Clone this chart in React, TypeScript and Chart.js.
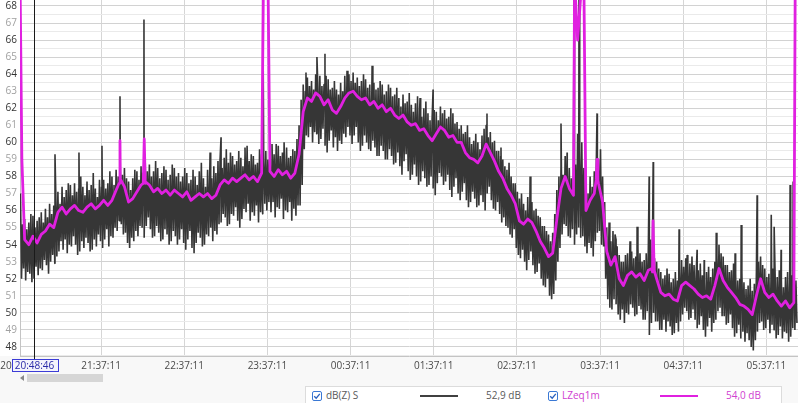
import React, { useEffect, useRef } from "react";
import { Chart, registerables } from "chart.js";

Chart.register(...registerables);

// minutes after 20:00:00
const X_MIN = 38.65;
const X_MAX = 600;
const START_MIN = 39;
const LEQ_STEP = 3;
const BAND_STEP = 1.5;

// LZeq1m (magenta), one value every 3 minutes from 20:39
const leqValues = [
  69.5, 54.3, 54.0, 54.5, 54.1, 54.6, 54.8, 55.2, 55.0, 55.9,
  56.2, 55.8, 56.1, 56.3, 56.0, 55.9, 56.2, 56.4, 56.1, 56.3,
  56.6, 56.3, 56.6, 57.2, 57.7, 57.4, 56.5, 56.7, 57.1, 57.5,
  57.6, 57.5, 57.1, 57.3, 57.0, 57.2, 56.9, 57.2, 57.0, 56.8,
  57.1, 56.6, 56.8, 57.0, 56.8, 57.0, 56.7, 56.9, 57.5, 57.8,
  57.6, 57.9, 57.7, 57.9, 58.1, 57.8, 58.0, 57.7, 58.2, 69.5,
  58.3, 58.0, 58.4, 58.1, 58.3, 57.9, 58.2, 59.3, 61.8, 62.6,
  62.4, 62.9, 62.7, 62.2, 62.5, 61.9, 61.7, 62.1, 62.6, 62.9,
  63.0, 62.7, 62.5, 62.6, 62.2, 62.4, 62.0, 62.2, 61.8, 62.0,
  61.6, 61.4, 61.6, 61.2, 61.0, 61.1, 60.7, 60.8, 60.4, 60.1,
  60.5, 60.9, 60.7, 60.3, 60.4, 60.0, 60.0, 59.4, 59.1, 59.0,
  58.8, 59.2, 59.9, 59.4, 58.9, 58.3, 57.9, 57.3, 56.9, 56.4,
  55.4, 55.2, 55.5, 55.3, 54.8, 54.2, 53.8, 53.3, 53.5, 55.5,
  57.3, 58.0, 57.3, 56.9, 66.0, 69.5, 56.0, 56.6, 57.0, 57.6,
  56.5, 53.6, 52.8, 53.3, 52.0, 51.6, 52.2, 52.4, 52.1, 52.3,
  51.9, 52.5, 52.4, 52.0, 51.2, 51.0, 51.1, 50.8, 50.7, 51.6,
  51.8, 51.6, 51.4, 51.1, 50.9, 51.0, 50.8, 51.6, 52.6, 51.9,
  51.5, 51.2, 50.9, 50.5, 50.4, 50.2, 49.9, 51.0, 52.0, 51.2,
  50.9, 51.1, 50.7, 50.4, 50.7, 50.3, 50.6,
];

// short LZeq1m events [minute, dB]
const leqSpikes = [
  [38.7, 69.5], [40.0, 59.0],
  [110.2, 57.6], [110.8, 60.1], [111.4, 57.8],
  [127.6, 57.6], [128.3, 60.2], [129.0, 57.7],
  [214.3, 69.5], [217.6, 69.5],
  [438.8, 69.5], [445.5, 69.5],
  [454.4, 57.8], [455.0, 59.0], [455.6, 57.8],
  [494.6, 52.6], [495.4, 55.4], [496.2, 52.5],
  [598.0, 69.5],
];

// dB(Z) S band: upper excursion every 1.5 minutes
const darkHigh = [
  57.0, 55.2, 55.5, 54.9, 55.3, 55.8, 55.7, 55.0, 55.4, 55.6, 55.9, 55.3, 56.1, 55.6, 56.4, 55.8, 56.3, 56.9, 57.1, 56.4,
  57.4, 56.8, 57.2, 57.6, 57.5, 56.9, 57.6, 57.1, 57.3, 58.0, 57.4, 56.9, 57.7, 57.2, 57.5, 58.2, 57.3, 56.8, 57.8, 57.4,
  57.8, 57.3, 57.6, 58.3, 58.0, 57.5, 58.4, 58.0, 58.6, 58.1, 58.5, 57.9, 57.7, 57.2, 57.9, 58.4, 58.3, 57.8, 58.6, 58.2,
  58.8, 58.3, 58.7, 58.0, 58.3, 58.9, 58.5, 57.9, 58.2, 58.6, 58.4, 57.8, 58.1, 58.7, 58.5, 58.0, 58.2, 57.7, 58.0, 58.5,
  58.2, 57.6, 57.8, 58.4, 58.0, 57.5, 58.3, 58.8, 57.9, 57.4, 58.4, 58.0, 57.9, 58.6, 58.2, 58.9, 59.0, 58.5, 59.1, 59.6,
  58.8, 59.4, 59.2, 58.7, 58.9, 59.5, 59.1, 58.6, 59.3, 59.8, 58.9, 59.3, 59.2, 58.7, 58.8, 59.6, 59.3, 58.9, 59.5, 59.0,
  59.6, 59.1, 59.3, 59.9, 59.8, 59.2, 59.4, 60.0, 59.7, 59.1, 59.2, 59.6, 59.5, 60.2, 61.0, 62.5, 63.4, 63.0, 63.8, 63.3,
  63.6, 63.1, 64.0, 63.5, 63.9, 63.3, 63.4, 63.9, 63.7, 63.1, 63.2, 63.6, 63.1, 62.8, 63.5, 63.0, 63.9, 63.4, 64.0, 63.6,
  64.1, 63.5, 63.8, 63.3, 63.6, 64.0, 63.7, 63.2, 63.4, 62.9, 63.5, 63.1, 63.2, 63.6, 63.4, 62.8, 63.0, 63.4, 63.2, 62.7,
  62.8, 63.2, 62.6, 62.1, 62.8, 62.3, 62.4, 62.9, 62.2, 61.8, 62.3, 62.7, 61.9, 61.5, 62.0, 62.4, 61.7, 61.3, 61.4, 61.9,
  61.8, 61.3, 62.1, 61.7, 61.9, 61.4, 61.5, 62.0, 61.7, 61.1, 61.2, 60.8, 61.0, 60.5, 60.6, 61.0, 60.3, 59.9, 60.1, 60.5,
  60.0, 59.6, 60.4, 60.8, 61.0, 60.3, 60.6, 60.0, 60.1, 59.5, 59.5, 59.2, 59.0, 58.6, 58.4, 58.8, 58.0, 57.6, 57.6, 57.1,
  56.7, 57.0, 56.4, 56.0, 56.8, 56.3, 56.5, 56.0, 56.1, 55.7, 55.6, 55.1, 55.1, 54.8, 54.6, 54.2, 54.7, 55.8, 57.2, 58.0,
  58.6, 58.1, 59.2, 58.6, 58.5, 57.9, 58.2, 58.7, 60.5, 59.5, 60.0, 58.5, 57.5, 57.0, 58.0, 57.4, 58.3, 58.9, 59.0, 59.6,
  58.0, 56.5, 55.0, 54.4, 54.2, 54.8, 54.6, 53.9, 53.4, 53.0, 53.0, 53.4, 53.5, 53.1, 53.6, 53.2, 53.3, 53.8, 53.5, 53.0,
  53.1, 53.5, 53.7, 54.3, 53.9, 53.2, 53.0, 52.6, 52.4, 52.0, 52.2, 52.6, 52.3, 51.8, 52.0, 52.4, 51.9, 52.5, 53.1, 52.7,
  53.2, 52.8, 52.9, 53.3, 52.8, 52.3, 52.5, 52.9, 52.2, 51.8, 52.4, 52.7, 52.1, 52.6, 53.0, 53.4, 54.0, 53.5, 53.3, 52.8,
  52.8, 52.4, 52.5, 52.9, 52.3, 51.9, 52.0, 52.4, 51.8, 51.4, 51.6, 52.0, 51.3, 51.7, 52.5, 53.0, 53.3, 52.8, 52.6, 52.1,
  52.3, 51.9, 52.6, 52.2, 52.1, 52.5, 51.9, 51.5, 52.1, 52.4, 51.8, 52.2, 52.3, 51.9,
];

// dB(Z) S band: lower excursion every 1.5 minutes
const darkLow = [
  52.0, 52.6, 51.9, 52.4, 52.3, 51.8, 52.0, 52.7, 52.2, 52.6, 52.5, 53.1, 52.8, 52.3, 53.0, 53.4, 52.9, 53.3, 53.6, 54.2,
  53.7, 54.3, 53.5, 54.0, 53.9, 54.5, 54.0, 53.4, 53.6, 54.2, 53.8, 54.4, 54.1, 53.6, 53.7, 54.3, 53.9, 54.6, 54.2, 53.8,
  54.3, 54.9, 53.9, 54.5, 54.4, 55.0, 54.8, 55.4, 55.2, 54.6, 54.7, 54.1, 53.8, 54.4, 54.2, 54.8, 54.5, 55.1, 55.0, 54.4,
  55.1, 55.6, 54.9, 54.4, 54.5, 55.1, 54.7, 54.2, 54.3, 54.9, 54.6, 54.0, 54.2, 54.8, 54.5, 54.0, 54.3, 54.9, 54.1, 53.7,
  54.3, 54.8, 53.8, 53.5, 54.1, 54.7, 54.4, 53.9, 54.0, 54.6, 54.5, 55.0, 54.2, 54.8, 54.6, 55.2, 55.3, 55.8, 55.6, 55.1,
  55.2, 55.8, 55.7, 56.2, 55.4, 55.0, 55.5, 56.1, 55.9, 56.4, 55.4, 55.9, 55.7, 56.3, 55.3, 55.9, 55.8, 56.4, 56.0, 56.5,
  55.9, 56.5, 55.6, 56.2, 56.1, 56.7, 55.5, 56.0, 55.9, 56.5, 55.4, 56.1, 55.7, 56.3, 56.3, 57.5, 59.6, 60.4, 60.3, 60.9,
  60.0, 60.6, 60.5, 59.9, 60.2, 60.8, 59.8, 59.4, 60.1, 60.7, 59.7, 60.3, 59.5, 60.1, 59.9, 60.5, 60.3, 60.9, 60.4, 59.9,
  60.4, 60.9, 60.0, 59.5, 59.8, 60.4, 60.0, 59.6, 59.5, 60.1, 59.7, 59.2, 59.2, 59.8, 59.5, 59.0, 59.0, 59.6, 59.2, 58.7,
  58.8, 59.4, 58.6, 58.1, 58.9, 59.3, 58.3, 57.8, 58.1, 58.7, 58.0, 57.5, 57.7, 58.3, 57.9, 57.4, 57.5, 58.0, 57.3, 56.9,
  57.6, 58.2, 58.0, 57.5, 57.7, 58.1, 57.2, 56.8, 57.4, 57.9, 57.0, 56.6, 57.1, 57.6, 56.6, 56.2, 56.5, 57.1, 56.7, 56.2,
  56.3, 56.9, 56.5, 56.0, 57.0, 57.4, 56.6, 56.1, 56.0, 56.5, 55.8, 55.3, 55.6, 55.1, 55.0, 54.6, 54.4, 54.9, 53.8, 53.4,
  53.2, 53.7, 53.0, 52.5, 53.1, 53.6, 52.8, 52.3, 52.4, 52.9, 52.0, 51.6, 51.5, 52.0, 51.0, 50.8, 51.1, 51.9, 53.0, 53.8,
  54.6, 55.2, 55.1, 54.5, 54.4, 54.9, 54.0, 54.6, 55.0, 54.4, 54.5, 53.9, 53.5, 54.1, 53.8, 53.3, 54.2, 54.7, 54.8, 54.0,
  53.9, 52.0, 50.8, 50.3, 50.2, 50.8, 50.5, 49.9, 49.6, 50.2, 49.4, 50.0, 49.9, 50.5, 50.3, 49.8, 49.9, 50.4, 50.2, 49.6,
  49.6, 50.1, 48.7, 49.4, 50.0, 49.5, 49.5, 49.0, 49.0, 49.6, 48.9, 49.5, 49.2, 48.7, 48.8, 49.4, 48.9, 49.5, 49.9, 50.3,
  50.1, 49.6, 49.7, 50.2, 49.6, 49.1, 49.3, 49.8, 49.0, 48.6, 49.2, 49.7, 48.9, 49.4, 49.6, 50.1, 50.3, 49.8, 49.8, 49.3,
  49.4, 49.9, 49.1, 48.6, 48.8, 49.3, 48.5, 48.9, 48.3, 48.8, 48.4, 48.0, 47.8, 48.4, 48.9, 49.4, 49.5, 49.0, 49.1, 49.6,
  48.8, 49.3, 49.0, 48.5, 48.7, 49.2, 48.5, 48.9, 48.8, 48.3, 48.6, 49.1, 49.0, 49.4,
];

// isolated dB(Z) S peaks [minute, dB]
const darkSpikes = [
  [63.9, 59.3], [81.2, 59.4], [97.8, 59.8], [110.8, 62.7], [128.1, 67.2],
  [175.8, 59.4], [183.7, 60.3], [201.0, 59.7], [213.8, 69.5], [220.5, 59.9],
  [229.2, 60.0], [245.0, 64.1], [252.9, 65.0], [258.7, 65.2], [274.6, 64.2],
  [292.7, 64.5], [327.3, 62.6], [336.7, 63.1], [375.6, 61.7], [385.7, 59.7],
  [406.7, 58.0], [429.0, 61.1], [433.4, 59.4], [438.4, 69.5], [442.0, 69.5],
  [455.0, 61.7], [463.7, 55.3], [468.7, 54.3], [478.8, 54.2], [483.9, 55.05],
  [492.6, 58.0], [495.5, 58.85], [514.2, 54.9], [520.0, 53.4], [527.2, 53.7],
  [532.3, 53.1], [541.0, 54.7], [554.6, 53.5], [559.0, 55.15], [570.5, 56.9],
  [580.7, 55.75], [582.8, 55.05], [587.8, 53.7], [594.3, 57.5], [596.5, 57.7],
];

const xTickMinutes = [38.65, 97.183, 157.183, 217.183, 277.183, 337.183, 397.183, 457.183, 517.183, 577.183];
const xTickLabels = ["20:38:39", "21:37:11", "22:37:11", "23:37:11", "00:37:11", "01:37:11", "02:37:11", "03:37:11", "04:37:11", "05:37:11"];
const cursorMinute = 48.767;
const cursorLabel = "20:48:46";

const yLabelValues = [48, 49, 50, 51, 52, 53, 54, 55, 56, 57, 58, 59, 60, 61, 62, 63, 64, 65, 66, 67, 68];

const legendItems = [
  { name: "dB(Z) S", value: "52,9 dB", color: "#404040", text: "#5a5a5a" },
  { name: "LZeq1m", value: "54,0 dB", color: "#e020e0", text: "#d040d0" },
];

const FONT = "'Open Sans', 'Noto Sans', 'DejaVu Sans', sans-serif";

function buildDark() {
  const pts: { x: number; y: number }[] = [];
  const n = Math.min(darkHigh.length, darkLow.length);
  for (let i = 0; i < n; i++) {
    pts.push({ x: START_MIN + BAND_STEP * i, y: darkHigh[i] });
    pts.push({ x: START_MIN + BAND_STEP * i + BAND_STEP / 2, y: darkLow[i] });
  }
  darkSpikes.forEach(([m, v]) => pts.push({ x: m, y: v }));
  pts.sort((a, b) => a.x - b.x);
  return pts;
}

function buildLeq() {
  const pts: { x: number; y: number }[] = leqValues.map((v, i) => ({ x: START_MIN + LEQ_STEP * i, y: v }));
  leqSpikes.forEach(([m, v]) => pts.push({ x: m, y: v }));
  pts.sort((a, b) => a.x - b.x);
  return pts;
}

const decorPlugin = {
  id: "decor",
  beforeDraw(chart: any) {
    const { ctx, chartArea, width, height } = chart;
    ctx.save();
    ctx.fillStyle = "#ffffff";
    ctx.fillRect(0, 0, width, height);
    ctx.fillStyle = "#f8f8f8";
    ctx.fillRect(0, chartArea.bottom, width, height - chartArea.bottom);
    ctx.restore();
  },
  afterDraw(chart: any) {
    const { ctx, chartArea } = chart;
    const xs = chart.scales.x;
    const cx = Math.round(xs.getPixelForValue(cursorMinute)) + 0.5;
    ctx.save();
    ctx.strokeStyle = "#1a1a1a";
    ctx.lineWidth = 1;
    ctx.beginPath();
    ctx.moveTo(cx, chartArea.top);
    ctx.lineTo(cx, chartArea.bottom + 3);
    ctx.stroke();
    ctx.font = `10px ${FONT}`;
    const tw = ctx.measureText(cursorLabel).width;
    const bx = Math.round(cx - tw / 2 - 3) + 0.5;
    const by = chartArea.bottom + 3.5;
    const bw = Math.round(tw + 6);
    const bh = 12;
    ctx.fillStyle = "#f4f4fc";
    ctx.fillRect(bx, by, bw, bh);
    ctx.strokeStyle = "#3c3cd6";
    ctx.strokeRect(bx, by, bw, bh);
    ctx.fillStyle = "#2a2aa8";
    ctx.textAlign = "center";
    ctx.textBaseline = "middle";
    ctx.fillText(cursorLabel, cx, by + bh / 2 + 0.5);
    ctx.restore();
  },
};

function CheckBox() {
  return (
    <svg width="10" height="10" style={{ display: "block" }}>
      <rect x="0.5" y="0.5" width="9" height="9" rx="1.5" fill="#fff" stroke="#3a78d4" />
      <polyline points="2.2,5.2 4.2,7.2 7.8,2.8" fill="none" stroke="#2a62c0" strokeWidth="1.3" />
    </svg>
  );
}

export default function App() {
  const ref = useRef<HTMLCanvasElement | null>(null);

  useEffect(() => {
    document.body.style.margin = "0";
    if (!ref.current) return;
    const chart = new Chart(ref.current, {
      type: "line",
      data: {
        datasets: [
          {
            label: "LZeq1m",
            data: buildLeq(),
            borderColor: "#e020e0",
            borderWidth: 2.8,
            borderJoinStyle: "round",
            pointRadius: 0,
            tension: 0,
            order: 0,
          },
          {
            label: "dB(Z) S",
            data: buildDark(),
            borderColor: "#363636",
            borderWidth: 1.6,
            borderJoinStyle: "bevel",
            pointRadius: 0,
            tension: 0,
            order: 1,
          },
        ],
      },
      options: {
        animation: false,
        responsive: false,
        devicePixelRatio: 1,
        parsing: false,
        normalized: true,
        layout: { padding: 0 },
        plugins: { legend: { display: false }, tooltip: { enabled: false } },
        scales: {
          x: {
            type: "linear",
            min: X_MIN,
            max: X_MAX,
            afterBuildTicks: (s: any) => {
              s.ticks = xTickMinutes.map((v) => ({ value: v }));
            },
            afterFit: (s: any) => {
              s.height = 16;
              s.paddingLeft = 0;
              s.paddingRight = 0;
            },
            ticks: {
              autoSkip: false,
              maxRotation: 0,
              minRotation: 0,
              padding: 4,
              color: "#4a4a4a",
              font: { size: 10, family: FONT },
              callback: (_v: any, i: number) => xTickLabels[i] ?? "",
            },
            grid: { color: "#d6d6d6", drawTicks: false },
            border: { color: "#c4c4c4" },
          },
          y: {
            type: "linear",
            min: 47.47,
            max: 68.35,
            afterBuildTicks: (s: any) => {
              const t: { value: number }[] = [{ value: 47.5 }];
              yLabelValues.forEach((v, i) => {
                t.push({ value: v });
                if (i < yLabelValues.length - 1) t.push({ value: v + 0.5 });
              });
              s.ticks = t;
            },
            afterFit: (s: any) => {
              s.width = 20;
              s.paddingTop = 0;
              s.paddingBottom = 0;
            },
            ticks: {
              autoSkip: false,
              padding: 3,
              font: { size: 10, family: FONT },
              color: (c: any) => (c.tick && c.tick.value % 2 === 0 ? "#333333" : "#a0a0a0"),
              callback: (v: any) => (Number.isInteger(v) ? String(v) : ""),
            },
            grid: {
              drawTicks: false,
              color: (c: any) => (c.tick && Number.isInteger(c.tick.value) ? "#d2d2d2" : "#eaeaea"),
            },
            border: { color: "#c4c4c4" },
          },
        },
      },
      plugins: [decorPlugin],
    } as any);
    return () => chart.destroy();
  }, []);

  return (
    <div
      style={{
        position: "absolute",
        left: 0,
        top: 0,
        width: 798,
        height: 403,
        background: "#f8f8f8",
        overflow: "hidden",
        fontFamily: FONT,
      }}
    >
      <canvas ref={ref} width={798} height={372} style={{ display: "block" }} />
      {/* scrollbar */}
      <div style={{ position: "absolute", left: 20, top: 373, width: 90, height: 11 }}>
        <div
          style={{
            position: "absolute",
            left: 0,
            top: 2,
            width: 0,
            height: 0,
            borderTop: "3px solid transparent",
            borderBottom: "3px solid transparent",
            borderRight: "4px solid #888",
          }}
        />
        <div style={{ position: "absolute", left: 7, top: 1, width: 76, height: 8, background: "#d6d6d6" }} />
      </div>
      {/* legend */}
      <div
        style={{
          position: "absolute",
          left: 305,
          top: 386,
          width: 477,
          height: 20,
          background: "#ffffff",
          border: "1px solid #dcdcdc",
          boxSizing: "border-box",
          fontSize: 10,
        }}
      >
        {legendItems.map((it, k) => {
          const base = k * 236;
          return (
            <React.Fragment key={it.name}>
              <div style={{ position: "absolute", left: base + 6, top: 4 }}>
                <CheckBox />
              </div>
              <div style={{ position: "absolute", left: base + 20, top: 2, color: it.text, lineHeight: "13px" }}>
                {it.name}
              </div>
              <div
                style={{
                  position: "absolute",
                  left: base + 114 + (k === 1 ? 4 : 0),
                  top: 8,
                  width: 38,
                  height: 2,
                  background: it.color,
                }}
              />
              <div style={{ position: "absolute", left: base + 180 + (k === 1 ? 4 : 0), top: 2, color: it.text, lineHeight: "13px" }}>
                {it.value}
              </div>
            </React.Fragment>
          );
        })}
      </div>
    </div>
  );
}
